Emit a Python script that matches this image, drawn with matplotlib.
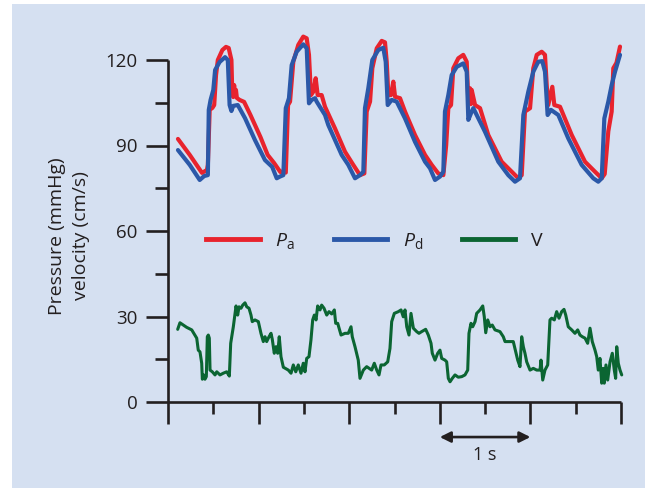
import matplotlib
matplotlib.use("Agg")
import matplotlib.pyplot as plt
from matplotlib.patches import Rectangle
from matplotlib.lines import Line2D

plt.rcParams['font.family'] = ['Open Sans', 'DejaVu Sans']
plt.rcParams['mathtext.fontset'] = 'custom'
plt.rcParams['mathtext.rm'] = 'Open Sans'
plt.rcParams['mathtext.it'] = 'Open Sans:italic'

# ---------------- data ----------------
# Aortic pressure Pa (mmHg)
pa_t = [0.11, 0.24, 0.375, 0.43, 0.44, 0.46, 0.49, 0.51, 0.53, 0.55, 0.60, 0.64, 0.67, 0.70, 0.71,
        0.72, 0.73, 0.74, 0.75, 0.76, 0.79, 0.84, 0.91, 1.02, 1.10, 1.17, 1.24,
        1.255, 1.30, 1.31, 1.325, 1.347, 1.383, 1.438, 1.493, 1.531, 1.556, 1.578, 1.604, 1.63,
        1.652, 1.696, 1.733, 1.843, 1.954, 2.045, 2.119, 2.167,
        2.193, 2.23, 2.255, 2.304, 2.359, 2.395, 2.414, 2.432, 2.461, 2.487, 2.506, 2.561, 2.616,
        2.726, 2.837, 2.911, 2.983, 3.039,
        3.07, 3.094, 3.124, 3.149, 3.204, 3.259, 3.297, 3.315, 3.333, 3.342, 3.352, 3.389, 3.444,
        3.535, 3.683, 3.794, 3.866, 3.904,
        3.94, 3.996, 4.032, 4.07, 4.125, 4.161, 4.18, 4.197, 4.242, 4.264, 4.327, 4.456, 4.603,
        4.713, 4.787, 4.82,
        4.86, 4.897, 4.915, 4.95, 4.989]
pa_v = [92.3, 86.7, 80.4, 81.4, 83.2, 102.5, 103.2, 104.2, 114.7, 120.0, 123.5, 124.6, 124.2, 120.0, 107.7,
        107.0, 111.2, 107.7, 109.5, 106.7, 106.0, 105.3, 100.7, 93.0, 86.7, 83.9, 80.7,
        80.8, 80.5, 90.0, 104.2, 105.4, 119.4, 125.3, 128.2, 127.6, 121.8, 107.7, 108.9, 113.6,
        107.7, 107.7, 103.6, 96.0, 87.8, 83.2, 79.6, 80.2,
        101.9, 105.4, 117.1, 124.1, 126.7, 126.2, 119.4, 107.7, 107.7, 112.4, 107.1, 106.6, 101.9,
        93.7, 86.7, 83.2, 80.2, 79.6,
        90.0, 103.1, 104.2, 117.1, 120.6, 121.8, 119.4, 105.4, 110.1, 104.5, 109.5, 104.2, 103.1,
        93.7, 84.3, 80.8, 78.5, 79.6,
        101.9, 103.1, 117.1, 121.8, 122.9, 121.8, 111.2, 104.2, 110.6, 104.2, 103.6, 93.7, 84.3,
        80.8, 78.5, 80.0,
        95.0, 101.9, 117.1, 119.0, 124.7]

# Distal pressure Pd (mmHg)
pd_t = [0.11, 0.24, 0.35, 0.40, 0.44, 0.45, 0.47, 0.50, 0.52, 0.57, 0.63, 0.66, 0.68, 0.70, 0.72,
        0.77, 0.85, 0.96, 1.07, 1.15, 1.20, 1.236, 1.273,
        1.30, 1.335, 1.365, 1.42, 1.493, 1.531, 1.556, 1.586, 1.623, 1.641, 1.733, 1.769, 1.917,
        1.99, 2.064, 2.119, 2.156,
        2.174, 2.211, 2.255, 2.321, 2.376, 2.403, 2.425, 2.469, 2.524, 2.616, 2.726, 2.837, 2.892,
        2.947, 3.002, 3.039,
        3.057, 3.094, 3.131, 3.187, 3.259, 3.297, 3.315, 3.352, 3.37, 3.499, 3.646, 3.756, 3.83,
        3.885,
        3.922, 3.977, 4.032, 4.087, 4.131, 4.161, 4.19, 4.227, 4.308, 4.418, 4.566, 4.694, 4.749,
        4.787,
        4.816, 4.86, 4.897, 4.934, 4.989]
pd_v = [88.4, 83.2, 77.9, 79.3, 79.6, 102.5, 106.0, 109.5, 116.5, 119.3, 121.0, 120.0, 104.2, 102.1, 103.9,
        104.2, 99.6, 91.9, 84.9, 82.5, 78.5, 79.1, 79.6,
        103.1, 106.6, 118.2, 122.9, 125.5, 124.1, 104.8, 106.0, 106.6, 105.4, 100.7, 97.2, 86.7,
        83.2, 78.5, 79.6, 80.8,
        103.1, 110.1, 120.0, 123.5, 124.3, 119.4, 104.2, 106.0, 105.4, 99.5, 91.3, 84.3, 82.0,
        77.9, 79.1, 80.8,
        101.9, 107.7, 114.7, 117.6, 118.8, 115.9, 99.0, 101.9, 103.1, 94.8, 84.3, 79.6, 77.3,
        78.5,
        100.7, 108.9, 115.9, 119.4, 119.6, 115.9, 100.7, 102.5, 100.7, 92.5, 83.2, 78.5, 77.3,
        78.5,
        99.5, 105.4, 111.2, 115.9, 121.8]

# Flow velocity V (cm/s)
v_t = [0.107, 0.132, 0.169, 0.206, 0.262, 0.317, 0.334, 0.353, 0.372, 0.379, 0.394, 0.408, 0.423,
       0.434, 0.445, 0.456, 0.464, 0.489, 0.519, 0.538, 0.574, 0.61, 0.648, 0.677, 0.692, 0.721,
       0.74, 0.751, 0.769, 0.784, 0.806, 0.825, 0.85, 0.869, 0.894, 0.916, 0.93, 0.96, 0.997,
       1.026, 1.052, 1.071, 1.089, 1.115, 1.137, 1.151, 1.173, 1.192, 1.211, 1.228, 1.247, 1.273,
       1.328, 1.358, 1.383, 1.41, 1.438, 1.468, 1.493, 1.512, 1.531, 1.556, 1.578, 1.597, 1.615,
       1.634, 1.652, 1.678, 1.696, 1.722, 1.752, 1.777, 1.807, 1.836, 1.851, 1.873, 1.91, 1.954,
       1.99, 2.02, 2.034, 2.064, 2.1, 2.119, 2.156, 2.193, 2.248, 2.277, 2.304, 2.329, 2.351,
       2.387, 2.425, 2.45, 2.469, 2.498, 2.542, 2.572, 2.597, 2.616, 2.635, 2.66, 2.682, 2.708,
       2.745, 2.77, 2.8, 2.844, 2.873, 2.903, 2.917, 2.947, 2.977, 3.002, 3.021, 3.057, 3.076,
       3.094, 3.113, 3.138, 3.168, 3.204, 3.242, 3.278, 3.308, 3.322, 3.344, 3.363, 3.389, 3.407,
       3.444, 3.474, 3.491, 3.507, 3.529, 3.554, 3.579, 3.609, 3.664, 3.701, 3.72, 3.775, 3.811,
       3.838, 3.86, 3.885, 3.904, 3.922, 3.94, 3.959, 3.996, 4.032, 4.07, 4.106, 4.117, 4.136,
       4.161, 4.191, 4.205, 4.216, 4.235, 4.264, 4.29, 4.316, 4.345, 4.371, 4.39, 4.418, 4.456,
       4.492, 4.522, 4.547, 4.573, 4.603, 4.632, 4.658, 4.683, 4.713, 4.732, 4.749, 4.768, 4.787,
       4.804, 4.815, 4.834, 4.853, 4.879, 4.904, 4.926, 4.941, 4.953, 4.97, 4.989, 5.008]
v_v = [25.5, 27.8, 27.0, 26.2, 25.3, 22.4, 18.2, 17.6, 13.6, 8.0, 9.5, 8.0, 8.9,
       22.9, 23.5, 22.4, 11.2, 10.6, 9.5, 10.6, 9.5, 10.1, 10.6, 9.1, 20.6, 26.4,
       31.1, 33.7, 30.5, 33.4, 32.9, 34.0, 34.8, 33.4, 32.9, 30.5, 28.2, 28.8, 28.2,
       24.1, 21.2, 22.9, 21.2, 22.9, 24.1, 22.0, 17.1, 19.4, 17.1, 22.9, 15.9, 12.2,
       11.2, 10.1, 13.0, 10.6, 13.0, 10.1, 13.6, 10.6, 15.3, 15.9, 21.8, 28.8, 30.5,
       28.8, 33.7, 32.3, 34.0, 32.9, 30.5, 31.7, 30.9, 32.3, 27.6, 27.6, 23.5, 24.1,
       24.1, 26.4, 22.9, 19.4, 14.7, 8.3, 11.2, 12.4, 11.2, 13.6, 11.2, 9.5, 13.0,
       13.0, 14.1, 18.8, 28.2, 31.1, 31.7, 32.3, 29.9, 32.3, 26.4, 23.5, 31.1, 25.9,
       24.7, 24.1, 24.7, 25.5, 23.5, 20.6, 17.1, 14.7, 17.1, 18.2, 15.3, 14.7, 14.1,
       8.3, 7.1, 8.3, 9.5, 8.7, 8.9, 9.5, 11.2, 24.1, 27.6, 26.4, 28.2, 31.1,
       32.3, 33.7, 29.9, 24.3, 28.8, 26.4, 27.0, 25.3, 24.7, 22.9, 21.2, 21.2, 21.2,
       17.6, 14.7, 12.4, 22.9, 19.4, 17.1, 14.1, 11.2, 11.8, 11.2, 11.2, 14.7, 7.7,
       11.2, 13.0, 21.8, 28.8, 29.4, 28.8, 31.7, 29.4, 31.7, 32.5, 30.5, 26.4, 25.3,
       24.1, 25.3, 23.5, 22.9, 22.4, 20.6, 25.9, 21.2, 18.2, 15.9, 11.2, 15.3, 6.6,
       11.8, 6.6, 13.0, 7.7, 14.1, 17.1, 11.2, 8.3, 19.4, 13.6, 11.2, 9.5]

series_labels = [r'$\mathit{P}_{\mathrm{a}}$', r'$\mathit{P}_{\mathrm{d}}$', 'V']
y_ticks = [0, 30, 60, 90, 120]
y_minor = [15, 45, 75, 105]
x_major = [1, 2, 3, 4, 5]
x_minor = [0.5, 1.5, 2.5, 3.5, 4.5]

RED = '#e8232d'
BLUE = '#2b58a8'
GREEN = '#0b6532'
INK = '#231f20'
PANEL = '#d5e0f1'

# ---------------- figure ----------------
W, H = 657, 492
fig = plt.figure(figsize=(W / 100, H / 100), dpi=100)
fig.patch.set_facecolor('white')
fig.patches.append(Rectangle((12 / W, 4 / H), (645 - 12) / W, (488 - 4) / H,
                             transform=fig.transFigure, facecolor=PANEL,
                             edgecolor='none', zorder=-10))

xlim = (-0.2, 5.2)
ylim = (-25, 130)
px_per_s = 90.6
px_per_unit = 2.85
x0_px = 168 + xlim[0] * px_per_s
x1_px = 168 + xlim[1] * px_per_s
ybot_px = 402 - ylim[0] * px_per_unit
ytop_px = 402 - ylim[1] * px_per_unit
ax = fig.add_axes([x0_px / W, (H - ybot_px) / H, (x1_px - x0_px) / W, (ybot_px - ytop_px) / H])
ax.set_facecolor('none')
ax.set_xlim(*xlim)
ax.set_ylim(*ylim)

ax.plot(pa_t, pa_v, color=RED, lw=3.0, solid_joinstyle='round', solid_capstyle='round', zorder=3)
ax.plot(pd_t, pd_v, color=BLUE, lw=3.0, solid_joinstyle='round', solid_capstyle='round', zorder=4)
ax.plot(v_t, v_v, color=GREEN, lw=2.2, solid_joinstyle='round', solid_capstyle='round', zorder=4)

for s in ['top', 'right']:
    ax.spines[s].set_visible(False)
ax.spines['left'].set_position(('data', 0))
ax.spines['bottom'].set_position(('data', 0))
ax.spines['left'].set_bounds(-7.7, 120)
ax.spines['bottom'].set_bounds(0, 5)
for s in ['left', 'bottom']:
    ax.spines[s].set_linewidth(1.9)
    ax.spines[s].set_color(INK)
    ax.spines[s].set_capstyle('butt')

ax.set_yticks(y_ticks)
ax.set_yticks(y_minor, minor=True)
ax.set_xticks(x_major)
ax.set_xticks(x_minor, minor=True)
ax.set_xticklabels([])
ax.tick_params(axis='y', which='major', direction='out', length=15.8, width=1.9,
               color=INK, labelsize=13.5, labelcolor=INK, pad=6)
ax.tick_params(axis='y', which='minor', direction='out', length=9.4, width=1.9, color=INK)
ax.tick_params(axis='x', which='major', direction='out', length=15.8, width=1.9, color=INK)
ax.tick_params(axis='x', which='minor', direction='out', length=8.6, width=1.9, color=INK)

fig.text(69 / W, (H - 236) / H, 'Pressure (mmHg)\nvelocity (cm/s)', rotation=90,
         ha='center', va='center', multialignment='center', fontsize=14,
         color=INK, linespacing=1.4)

handles = [Line2D([], [], color=RED, lw=3.5),
           Line2D([], [], color=BLUE, lw=3.5),
           Line2D([], [], color=GREEN, lw=3.5)]
ax.legend(handles, series_labels, ncol=3, frameon=False, loc='center left',
          bbox_to_anchor=(0.42, 56.5), bbox_transform=ax.transData,
          borderpad=0, borderaxespad=0, handlelength=2.75, handletextpad=0.8,
          columnspacing=2.0, fontsize=14, labelcolor=INK)

ax.annotate('', xy=(3, -12.3), xytext=(4, -12.3),
            arrowprops=dict(arrowstyle='<|-|>', color=INK, lw=1.9,
                            mutation_scale=16, shrinkA=0, shrinkB=0),
            annotation_clip=False)
ax.text(3.5, -15.3, '1 s', ha='center', va='top', fontsize=13, color=INK)

fig.savefig('out.png', dpi=100, facecolor='white')
